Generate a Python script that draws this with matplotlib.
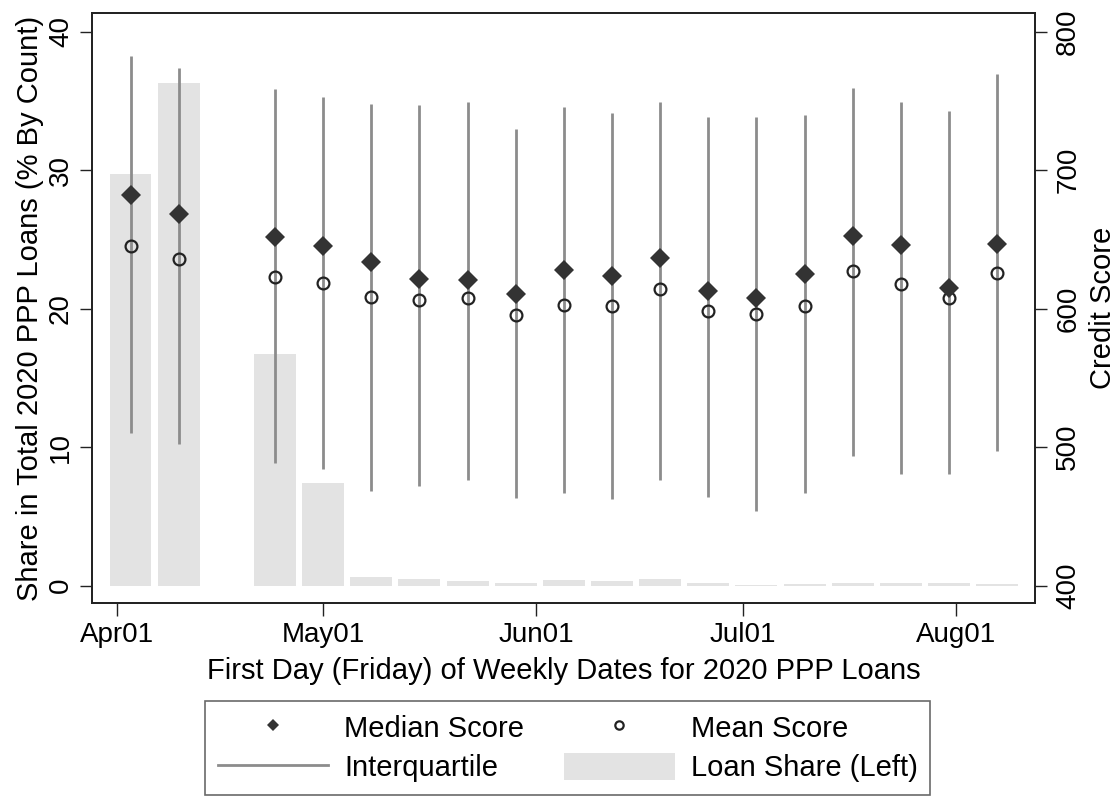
import datetime as dt
import matplotlib
matplotlib.use("Agg")
import matplotlib.pyplot as plt
import matplotlib.dates as mdates
from matplotlib.lines import Line2D
from matplotlib.patches import Patch

# ---------------- data ----------------
week_start = ["2020-04-03", "2020-04-10", "2020-04-24", "2020-05-01", "2020-05-08",
              "2020-05-15", "2020-05-22", "2020-05-29", "2020-06-05", "2020-06-12",
              "2020-06-19", "2020-06-26", "2020-07-03", "2020-07-10", "2020-07-17",
              "2020-07-24", "2020-07-31", "2020-08-07"]
loan_share_pct = [29.7, 36.3, 16.7, 7.4, 0.64, 0.47, 0.33, 0.2, 0.4, 0.33,
                  0.47, 0.2, 0.06, 0.1, 0.22, 0.22, 0.22, 0.12]
median_score = [682, 668, 651.5, 645.5, 633.5, 621.5, 620.5, 610.5, 628, 623.5,
                636.5, 612.5, 607.5, 625, 652.5, 646, 614.5, 646.5]
mean_score = [645, 636, 622.5, 618.5, 608.5, 606.5, 607.5, 595.5, 602.5, 602,
              614, 598.5, 596, 602, 627, 618, 607.5, 626]
p25_score = [510.5, 502, 488.5, 484.5, 468.5, 472, 476, 463, 466.5, 462.5,
             476, 464, 453.5, 466.5, 493.5, 480.5, 480.5, 497.5]
p75_score = [782.5, 773.5, 758.5, 753, 747.5, 747, 749.5, 730, 745.5, 741.5,
             749.5, 738.5, 738.5, 739.5, 759, 749.5, 742.5, 769]
month_ticks = ["2020-04-01", "2020-05-01", "2020-06-01", "2020-07-01", "2020-08-01"]
month_labels = ["Apr01", "May01", "Jun01", "Jul01", "Aug01"]
share_ticks = [0, 10, 20, 30, 40]
score_ticks = [400, 500, 600, 700, 800]

# ---------------- style ----------------
plt.rcParams['font.family'] = ['Liberation Sans', 'DejaVu Sans']
FS = 20
LFS = 21
SPINE = '#222222'

def to_num(s):
    return mdates.date2num(dt.datetime.fromisoformat(s))

x = [to_num(s) for s in week_start]
xt = [to_num(s) for s in month_ticks]

fig = plt.figure(figsize=(11.19, 7.98), dpi=100)
W, H = 1119, 798
ax = fig.add_axes([92 / W, 1 - 603 / H, (1035 - 92) / W, (603 - 13) / H])

ax.bar(x, loan_share_pct, width=6.1, color='#e3e3e3', linewidth=0, zorder=1)
ax.set_ylim(-1.26, 41.34)
ax.set_xlim(xt[0] - 3.6, xt[-1] + 11.5)

ax2 = ax.twinx()
ax2.vlines(x, p25_score, p75_score, color='#8c8c8c', lw=2.0, zorder=2)
ax2.plot(x, mean_score, 'o', ms=8.5, mfc='none', mec='#222222', mew=1.6, zorder=3)
ax2.plot(x, median_score, 'D', ms=10, color='#333333', mew=0, zorder=4)
ax2.set_ylim(387.4, 813.4)
ax2.set_xlim(xt[0] - 3.6, xt[-1] + 11.5)

# ticks
ax.set_xticks(xt)
ax.set_xticklabels(month_labels)
ax.set_yticks(share_ticks)
ax.set_yticklabels([str(v) for v in share_ticks], rotation=90, va='center')
ax.tick_params(axis='x', length=9.5, width=1, pad=4, labelsize=FS, color=SPINE)
ax.tick_params(axis='y', length=8.5, width=1, pad=4.5, labelsize=FS, color=SPINE)
ax2.set_yticks(score_ticks)
ax2.set_yticklabels([str(v) for v in score_ticks], rotation=90, va='center')
ax2.tick_params(axis='y', length=8.5, width=1, pad=6, labelsize=FS, color=SPINE)

for a in (ax, ax2):
    for sp in a.spines.values():
        sp.set_color(SPINE)
        sp.set_linewidth(1.3)

ax.set_ylabel('Share in Total 2020 PPP Loans (% By Count)', fontsize=LFS, labelpad=3)
ax2.set_ylabel('Credit Score', fontsize=LFS, labelpad=6)
ax.set_xlabel('First Day (Friday) of Weekly Dates for 2020 PPP Loans', fontsize=LFS, labelpad=7)

# legend
h_med = Line2D([], [], marker='D', ls='none', color='#333333', ms=6.5, mew=0)
h_mean = Line2D([], [], marker='o', ls='none', mfc='none', mec='#222222', ms=6, mew=1.6)
h_iqr = Line2D([], [], color='#8c8c8c', lw=2.0)
h_bar = Patch(facecolor='#e3e3e3', edgecolor='none')
leg = fig.legend(handles=[h_med, h_iqr, h_mean, h_bar],
                 labels=['Median Score', 'Interquartile', 'Mean Score', 'Loan Share (Left)'],
                 ncol=2, loc='upper center', bbox_to_anchor=(567.5 / W, 1 - 701 / H),
                 bbox_transform=fig.transFigure, fontsize=LFS, frameon=True, fancybox=False,
                 edgecolor='#444444', handlelength=3.8, handleheight=1.05,
                 handletextpad=0.55, columnspacing=1.35, labelspacing=0.35,
                 borderpad=0.42, borderaxespad=0)
leg.get_frame().set_linewidth(1.2)

fig.savefig('out.png', dpi=100)
